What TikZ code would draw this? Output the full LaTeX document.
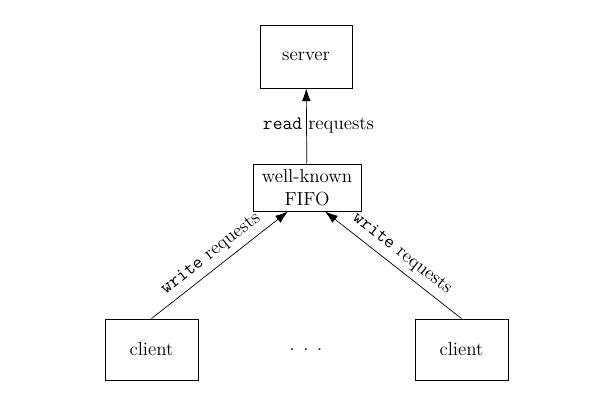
\documentclass[tikz,border=0pt]{standalone}
\usetikzlibrary{arrows.meta,calc}
\tikzset{
  box/.style={draw, line width=0.6pt, inner sep=2pt, align=center},
  req/.style={-{Latex[length=3.2mm,width=2.2mm]}, line width=0.5pt},
}
\begin{document}
\begin{tikzpicture}[font=\fontsize{13.5}{16}\selectfont]
      \useasboundingbox (0,0) rectangle (15,10);
      \node[box, minimum width=2.3cm, minimum height=1.575cm] (server) at (7.65,8.5875) {server};
      \node[box, minimum width=2.7cm, minimum height=1.175cm] (fifo) at (7.675,5.3125) {well-known\\FIFO};
      \node[box, minimum width=2.325cm, minimum height=1.525cm] (client1) at (3.7875,1.2625) {client};
      \node[box, minimum width=2.325cm, minimum height=1.525cm] (client2) at (11.5375,1.2625) {client};
      \node (dots) at (7.65,1.25) {.\hspace{0.45em}.\hspace{0.45em}.};
      \coordinate (inl) at ([xshift=-0.475cm]fifo.south);
      \coordinate (inr) at ([xshift=0.45cm]fifo.south);
      \begin{scope}[req]
        \draw (fifo) to (server);
        \draw (client1.north) to node[sloped, above=1pt, pos=0.5] {\texttt{write} requests} (inl);
        \draw (client2.north) to node[sloped, above=1pt, pos=0.5] {\texttt{write} requests} (inr);
      \end{scope}
      \node[xshift=0.3cm] (readlbl) at ($(fifo.north)!0.5!(server.south)$) {\texttt{read} requests};
    \end{tikzpicture}
\end{document}
